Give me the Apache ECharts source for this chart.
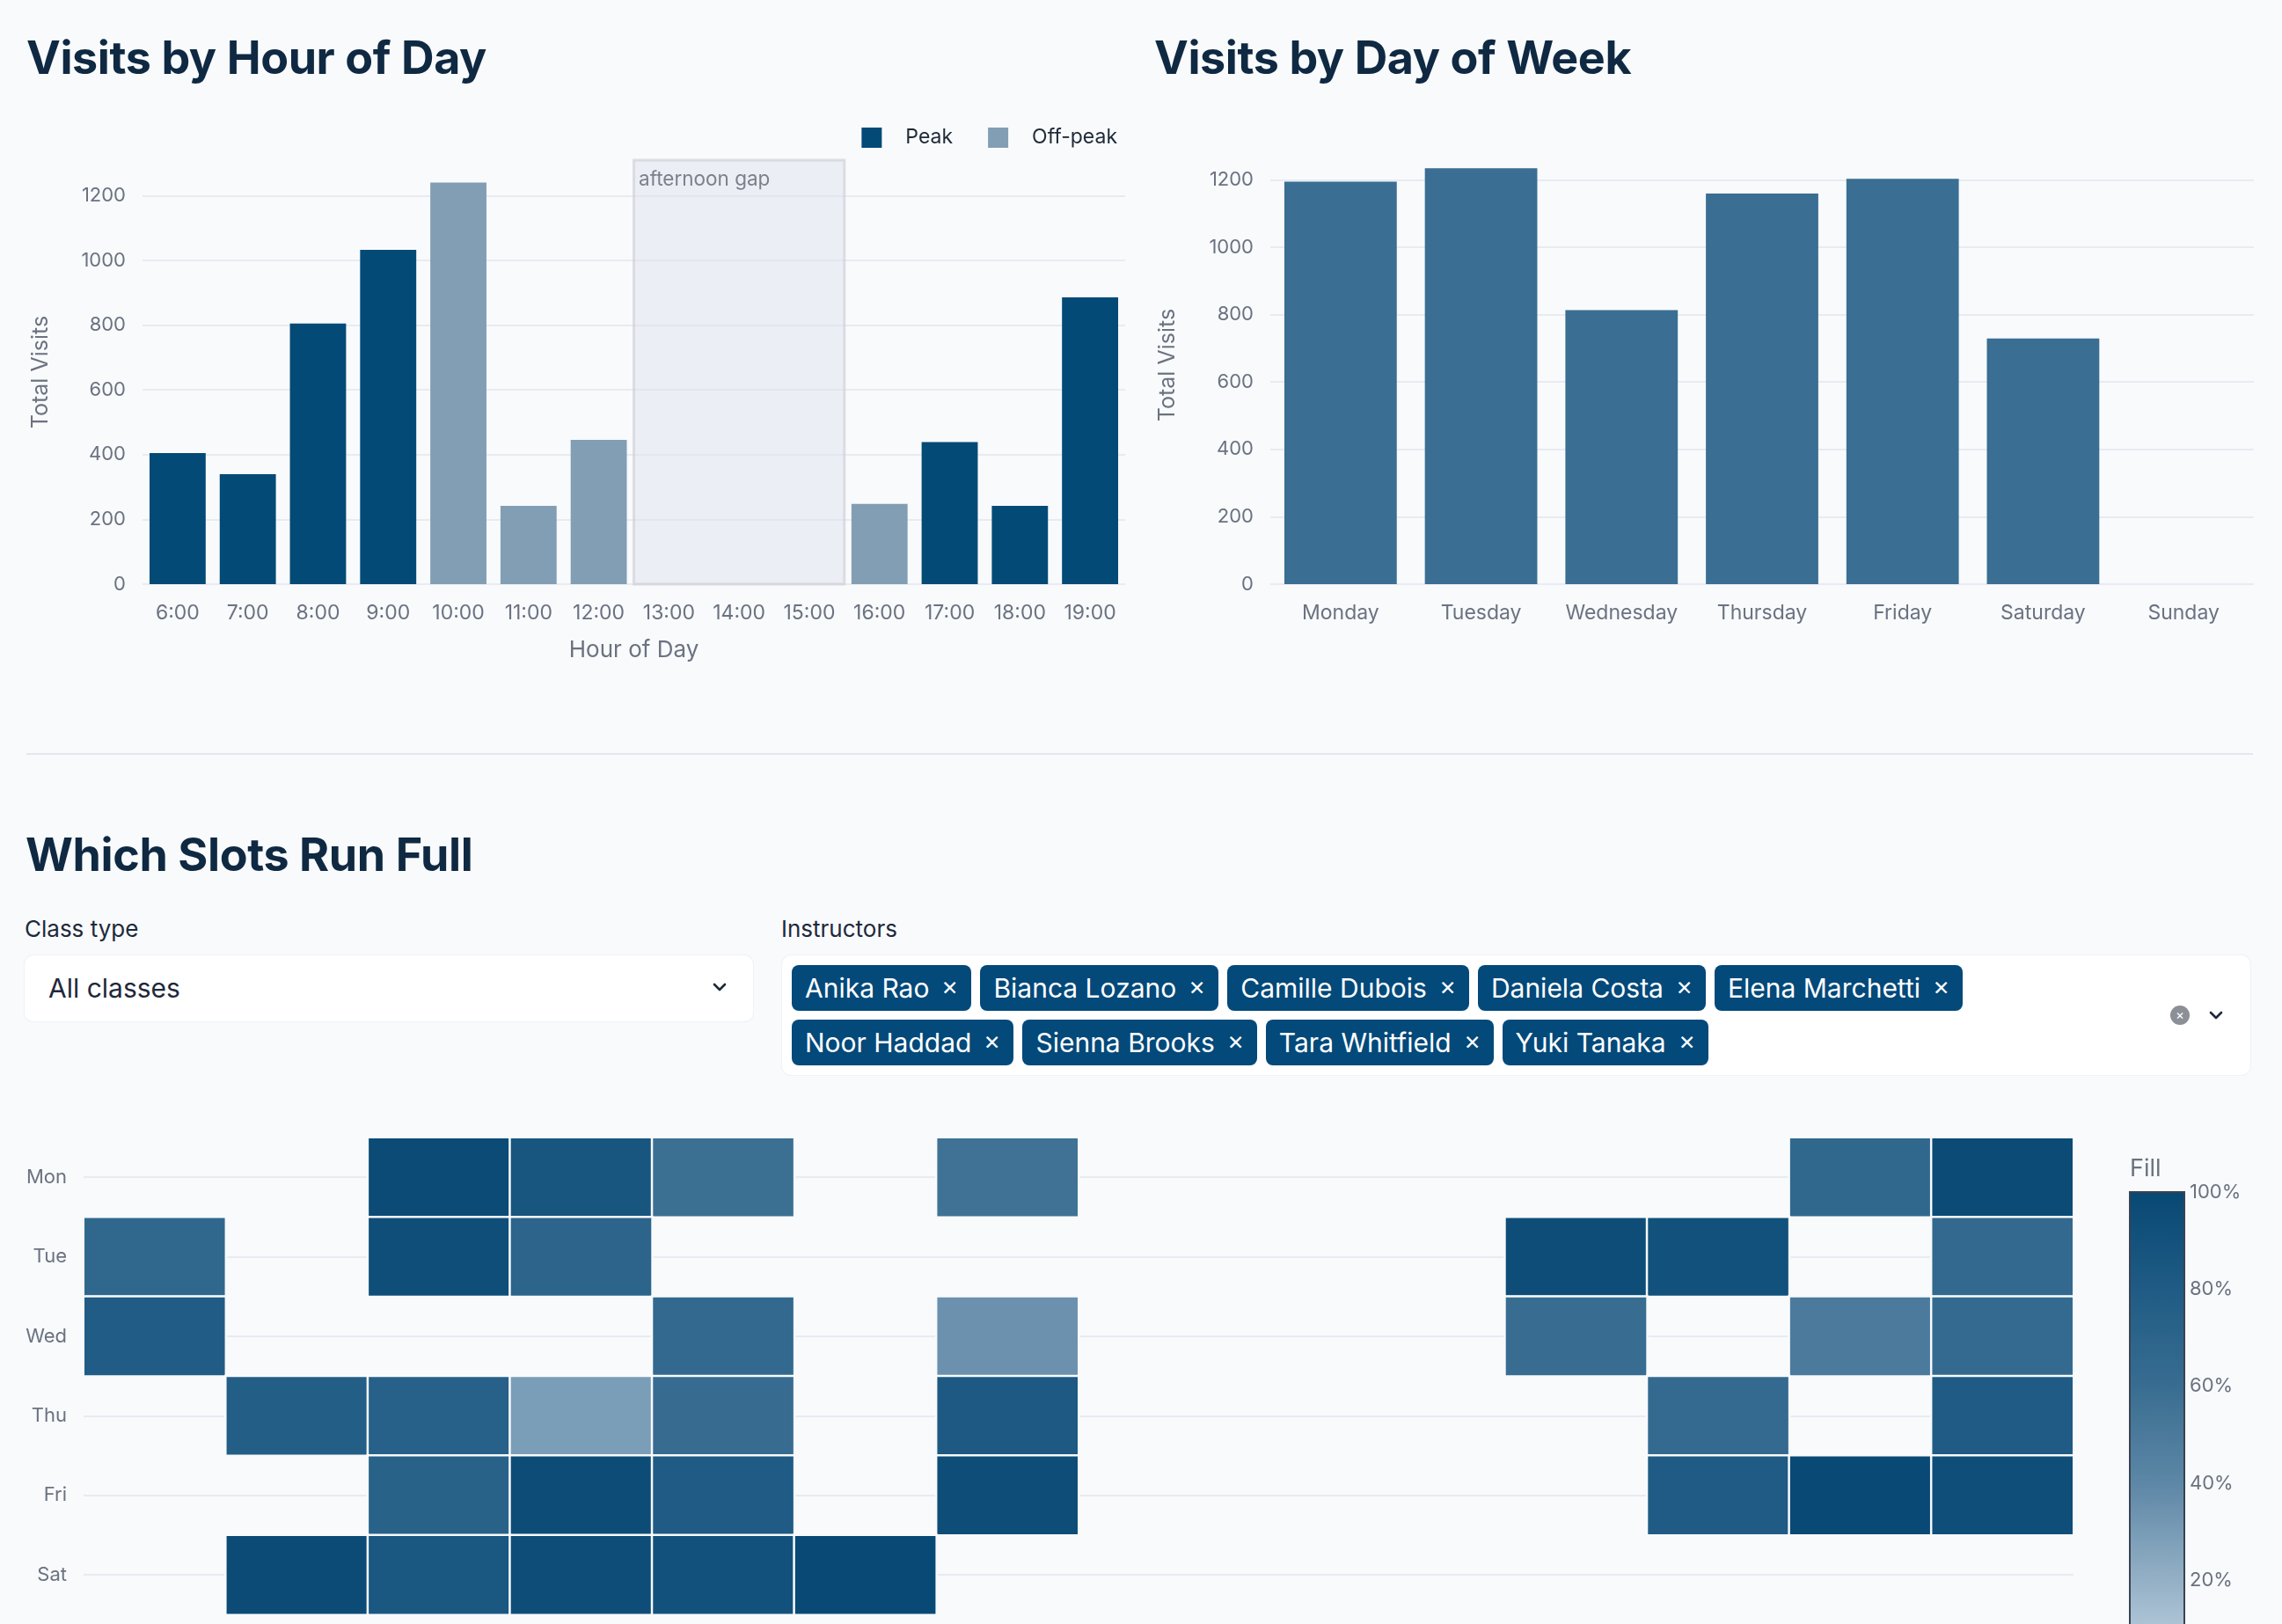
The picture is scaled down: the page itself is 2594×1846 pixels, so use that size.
<!DOCTYPE html>
<html>
<head>
<meta charset="utf-8">
<title>Studio visits</title>
<script src="https://cdn.jsdelivr.net/npm/echarts@6/dist/echarts.min.js"></script>
<style>
  html, body { margin: 0; padding: 0; width: 2594px; height: 1846px; overflow: hidden; background: #f8fafc; font-family: Inter, "Noto Sans", sans-serif; }
  .title { position: absolute; margin: 0; font-size: 52px; line-height: 52px; font-weight: 700; color: #0f2942; letter-spacing: -0.4px; white-space: nowrap; }
  .chart { position: absolute; }
  .rule { position: absolute; left: 30px; top: 856px; width: 2531px; height: 2px; background: #e3e7ed; }
  .label { position: absolute; font-size: 26px; line-height: 26px; color: #1e293b; }
  .box { position: absolute; background: #fff; border-radius: 10px; box-shadow: 0 0 0 1px #eff2f6; }
  .select-text { position: absolute; left: 27px; top: 0; line-height: 75px; font-size: 30px; color: #1e293b; }
  .chev { position: absolute; }
  .tags { position: absolute; left: 11px; top: 11px; }
  .row { display: flex; gap: 10px; margin-bottom: 10px; }
  .tag { height: 52px; padding: 0 15px; background: #03497a; color: #fff; font-size: 30px; border-radius: 8px; display: inline-flex; align-items: center; white-space: nowrap; }
  .tag .x { margin-left: 14px; font-size: 23px; }
  .clear { position: absolute; left: 1578px; top: 57px; width: 22px; height: 22px; border-radius: 50%; background: #8b8f96; color: #fff; font-size: 15px; line-height: 22px; text-align: center; }
</style>
</head>
<body>

<h2 class="title" style="left:30px; top:40px;">Visits by Hour of Day</h2>
<h2 class="title" style="left:1312px; top:40px;">Visits by Day of Week</h2>
<div id="hourChart" class="chart" style="left:0; top:100px; width:1300px; height:680px;"></div>
<div id="dayChart" class="chart" style="left:1300px; top:100px; width:1294px; height:680px;"></div>

<div class="rule"></div>

<h2 class="title" style="left:29px; top:946px;">Which Slots Run Full</h2>

<div class="label" style="left:28px; top:1043px;">Class type</div>
<div class="box" style="left:28px; top:1086px; width:828px; height:75px;">
  <div class="select-text">All classes</div>
  <svg class="chev" style="left:782px; top:30px;" width="16" height="12" viewBox="0 0 16 12">
    <polyline points="2,3 8,9 14,3" fill="none" stroke="#1e293b" stroke-width="2.6" stroke-linecap="round" stroke-linejoin="round"/>
  </svg>
</div>

<div class="label" style="left:888px; top:1043px;">Instructors</div>
<div class="box" id="instructorBox" style="left:889px; top:1086px; width:1669px; height:136px;">
  <div class="tags" id="tags"></div>
  <div class="clear">&#215;</div>
  <svg class="chev" style="left:1622px; top:62px;" width="16" height="12" viewBox="0 0 16 12">
    <polyline points="2,3 8,9 14,3" fill="none" stroke="#1e293b" stroke-width="2.6" stroke-linecap="round" stroke-linejoin="round"/>
  </svg>
</div>

<div id="slotChart" class="chart" style="left:0; top:1240px; width:2594px; height:760px;"></div>

<script>
// ---- data ----
var hours = ['6:00', '7:00', '8:00', '9:00', '10:00', '11:00', '12:00', '13:00', '14:00', '15:00', '16:00', '17:00', '18:00', '19:00'];
var peakVisits    = [405, 340, 805, 1033, null, null, null, null, null, null, null, 439, 242, 886];
var offPeakVisits = [null, null, null, null, 1241, 242, 446, null, null, null, 248, null, null, null];

var weekDays = ['Monday', 'Tuesday', 'Wednesday', 'Thursday', 'Friday', 'Saturday', 'Sunday'];
var dayVisits = [1194, 1234, 813, 1159, 1203, 729, 0];

var slotDays = ['Mon', 'Tue', 'Wed', 'Thu', 'Fri', 'Sat', 'Sun'];
var monFill = [null, null, 97, 86, 58, null, 56, null, null, null, null, null, 66, 97];
var tueFill = [66, null, 94, 70, null, null, null, null, null, null, 95, 91, null, 64];
var wedFill = [79, null, null, null, 64, null, 35, null, null, null, 60, null, 50, 63];
var thuFill = [null, 77, 74, 29, 61, null, 82, null, null, null, null, 63, null, 80];
var friFill = [null, null, 72, 96, 80, null, 95, null, null, null, null, 80, 99, 94];
var satFill = [null, 97, 84, 95, 91, 99, null, null, null, null, null, null, null, null];
var sunFill = [null, null, null, null, null, null, null, null, null, null, null, null, null, null];

var fillTicks = [0, 100, 20];   // min, max, step of the colour bar
var fillColors = ['#c9dae7', '#94b0c6', '#5d87a6', '#386d91', '#1f5b84', '#084874'];

var instructors = ['Anika Rao', 'Bianca Lozano', 'Camille Dubois', 'Daniela Costa', 'Elena Marchetti',
                   'Noor Haddad', 'Sienna Brooks', 'Tara Whitfield', 'Yuki Tanaka'];

var axisGrey = '#6b7280';
var gridGrey = '#e8ebf1';
var font = 'Inter';
var plain = function (v) { return String(v); };

// ---- instructor chips ----
(function () {
  var holder = document.getElementById('tags');
  [instructors.slice(0, 5), instructors.slice(5)].forEach(function (names) {
    var row = document.createElement('div');
    row.className = 'row';
    names.forEach(function (n) {
      var t = document.createElement('span');
      t.className = 'tag';
      t.innerHTML = n + '<span class="x">&#x2715;</span>';
      row.appendChild(t);
    });
    holder.appendChild(row);
  });
})();

// ---- hour chart ----
var hourChart = echarts.init(document.getElementById('hourChart'));
hourChart.setOption({
  animation: false,
  textStyle: { fontFamily: font },
  legend: {
    right: 30, top: 45, padding: 0,
    icon: 'rect', itemWidth: 23, itemHeight: 23, itemGap: 40,
    textStyle: { fontSize: 23, color: '#1f2937', fontFamily: font, padding: [0, 0, 0, 22] },
    data: ['Peak', 'Off-peak']
  },
  grid: { left: 162, right: 21, top: 82, bottom: 116, outerBoundsMode: 'none' },
  xAxis: {
    type: 'category',
    data: hours,
    name: 'Hour of Day',
    nameLocation: 'middle',
    nameGap: 62,
    nameTextStyle: { fontSize: 26, color: axisGrey, fontFamily: font },
    axisLine: { show: false },
    axisTick: { show: false },
    axisLabel: { color: axisGrey, fontSize: 23, margin: 22, interval: 0, fontFamily: font }
  },
  yAxis: {
    type: 'value',
    min: 0, max: 1310, interval: 200,
    name: 'Total Visits',
    nameLocation: 'middle',
    nameGap: 103,
    nameTextStyle: { fontSize: 25, color: axisGrey, fontFamily: font },
    axisLine: { show: false },
    axisTick: { show: false },
    axisLabel: { color: axisGrey, fontSize: 22, margin: 19, showMaxLabel: false, fontFamily: font, formatter: plain },
    splitLine: { showMaxLine: false, lineStyle: { color: gridGrey, width: 2 } }
  },
  series: [
    {
      name: 'Peak',
      type: 'bar',
      stack: 'hour',
      data: peakVisits,
      barCategoryGap: '20%',
      itemStyle: { color: '#034a76' },
      markArea: {
        silent: true,
        itemStyle: { color: 'rgba(220,224,236,0.45)', borderColor: 'rgba(200,200,208,0.55)', borderWidth: 3 },
        label: { show: true, position: 'insideTopLeft', color: '#7d808c', fontSize: 22.5, fontFamily: font, distance: 6, offset: [1, 6] },
        data: [[{ name: 'afternoon gap', xAxis: '13:00' }, { xAxis: '15:00' }]]
      }
    },
    {
      name: 'Off-peak',
      type: 'bar',
      stack: 'hour',
      data: offPeakVisits,
      itemStyle: { color: '#829eb4' }
    }
  ]
});

// ---- day chart ----
var dayChart = echarts.init(document.getElementById('dayChart'));
dayChart.setOption({
  animation: false,
  textStyle: { fontFamily: font },
  grid: { left: 144, right: 32, top: 66, bottom: 116, outerBoundsMode: 'none' },
  xAxis: {
    type: 'category',
    data: weekDays,
    axisLine: { show: false },
    axisTick: { show: false },
    axisLabel: { color: axisGrey, fontSize: 23, margin: 22, interval: 0, fontFamily: font }
  },
  yAxis: {
    type: 'value',
    min: 0, max: 1300, interval: 200,
    name: 'Total Visits',
    nameLocation: 'middle',
    nameGap: 104,
    nameTextStyle: { fontSize: 25, color: axisGrey, fontFamily: font },
    axisLine: { show: false },
    axisTick: { show: false },
    axisLabel: { color: axisGrey, fontSize: 22, margin: 19, showMaxLabel: false, fontFamily: font, formatter: plain },
    splitLine: { showMaxLine: false, lineStyle: { color: gridGrey, width: 2 } }
  },
  series: [{
    type: 'bar',
    data: dayVisits,
    barCategoryGap: '20%',
    itemStyle: { color: '#3a6e92' }
  }]
});

// ---- slot heatmap ----
var fillRows = [monFill, tueFill, wedFill, thuFill, friFill, satFill, sunFill];
var slotCells = [];
fillRows.forEach(function (row, d) {
  row.forEach(function (v, h) {
    if (v !== null) slotCells.push([h, d, v]);
  });
});

var cellTop = 53, rowH = 90.4, plotW = 2262;
var slotChart = echarts.init(document.getElementById('slotChart'));
slotChart.setOption({
  animation: false,
  textStyle: { fontFamily: font },
  title: {
    text: 'Fill', left: 2421, top: 75, padding: 0,
    textStyle: { fontSize: 27, fontWeight: 'normal', color: axisGrey, fontFamily: font }
  },
  grid: [
    { left: 95, top: cellTop, width: plotW, height: rowH * slotDays.length, outerBoundsMode: 'none' },
    // shifted half a row so its split lines run through the row centres
    { left: 95, top: cellTop + rowH / 2, width: plotW, height: rowH * slotDays.length, outerBoundsMode: 'none' },
    { left: 2421, top: 115, width: 62, height: 552, show: true, z: 10, outerBoundsMode: 'none',
      borderColor: '#3a4250', borderWidth: 2, backgroundColor: 'transparent' }
  ],
  xAxis: [
    { gridIndex: 0, type: 'category', data: hours,
      axisLine: { show: false }, axisTick: { show: false }, splitLine: { show: false },
      axisLabel: { color: axisGrey, fontSize: 22, fontFamily: font } },
    { gridIndex: 1, type: 'category', data: hours, show: false },
    { gridIndex: 2, type: 'value', show: false }
  ],
  yAxis: [
    { gridIndex: 0, type: 'category', data: slotDays, inverse: true,
      axisLine: { show: false }, axisTick: { show: false }, splitLine: { show: false },
      axisLabel: { color: axisGrey, fontSize: 22, margin: 19, fontFamily: font } },
    { gridIndex: 1, type: 'category', data: slotDays, inverse: true,
      axisLine: { show: false }, axisTick: { show: false }, axisLabel: { show: false },
      splitLine: { show: true, interval: 0, lineStyle: { color: gridGrey, width: 2 } } },
    { gridIndex: 2, type: 'value', min: fillTicks[0], max: fillTicks[1], interval: fillTicks[2], position: 'right',
      axisLine: { show: false }, axisTick: { show: false }, splitLine: { show: false },
      axisLabel: { formatter: '{value}%', margin: 6, color: axisGrey, fontSize: 22, fontFamily: font } }
  ],
  visualMap: {
    type: 'continuous',
    min: fillTicks[0], max: fillTicks[1],
    seriesIndex: 0,
    calculable: false,
    orient: 'vertical',
    left: 2421, top: 115,
    itemWidth: 62, itemHeight: 552,
    padding: 0,
    text: null,
    inRange: { color: fillColors }
  },
  series: [{
    type: 'heatmap',
    xAxisIndex: 0,
    yAxisIndex: 0,
    data: slotCells,
    itemStyle: { borderColor: '#f8fafc', borderWidth: 2.5 }
  }]
});
</script>
</body>
</html>
